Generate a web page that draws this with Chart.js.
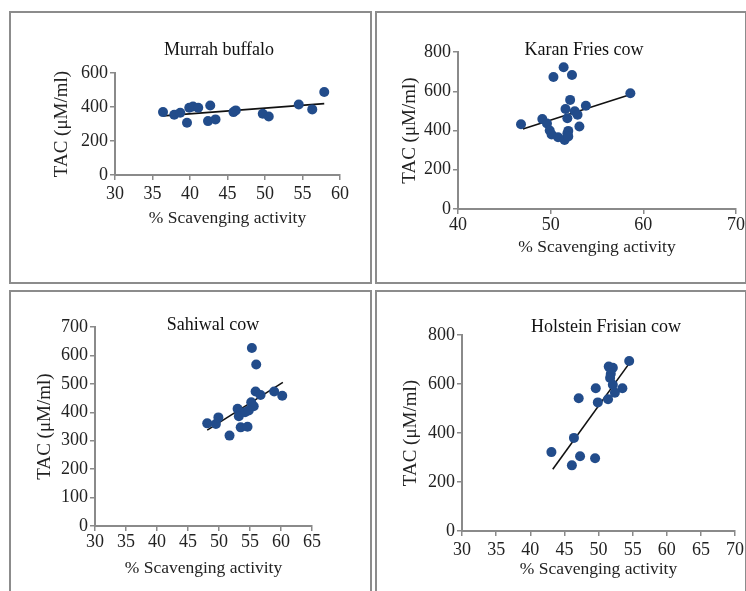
<!DOCTYPE html>
<html>
<head>
<meta charset="utf-8">
<script src="https://cdn.jsdelivr.net/npm/chart.js@4"></script>
<style>
  html, body { margin: 0; padding: 0; background: #fff; overflow: hidden; }
  body { width: 746px; height: 591px; position: relative; }
  .panel { position: absolute; box-sizing: border-box; border: 2px solid #8c8c8c; }
  canvas { position: absolute; }
</style>
</head>
<body>
<div class="panel" style="left:9px;top:11px;width:363px;height:273px"></div>
<div class="panel" style="left:375px;top:11px;width:372px;height:273px"></div>
<div class="panel" style="left:9px;top:290px;width:363px;height:310px"></div>
<div class="panel" style="left:375px;top:290px;width:372px;height:310px"></div>
<canvas id="c1" style="left:9px;top:11px"></canvas>
<canvas id="c2" style="left:375px;top:11px"></canvas>
<canvas id="c3" style="left:9px;top:290px"></canvas>
<canvas id="c4" style="left:375px;top:290px"></canvas>
<script>
// values
const murrahX = [36.4, 37.9, 38.7, 39.6, 39.9, 40.4, 41.1, 42.7, 42.4, 43.4, 45.8, 46.1, 49.7, 50.5, 54.5, 56.3, 57.9];
const murrahY = [370, 354, 366, 307, 396, 403, 396, 409, 317, 327, 370, 380, 360, 344, 415, 386, 488];
const murrahFitX = [36.4, 57.9];
const murrahFitY = [348, 420];

const karanX = [46.8, 49.1, 49.6, 49.9, 50.1, 50.8, 51.5, 51.8, 51.9, 50.3, 51.4, 52.3, 52.1, 51.6, 51.8, 52.6, 52.9, 53.1, 53.8, 58.6, 51.9];
const karanY = [432, 458, 436, 400, 380, 366, 352, 385, 398, 673, 722, 683, 556, 510, 462, 498, 480, 420, 526, 590, 370];
const karanFitX = [47.0, 58.7];
const karanFitY = [408, 585];

const sahiwalX = [48.1, 49.5, 49.9, 51.7, 53.0, 53.2, 53.5, 54.6, 54.2, 55.2, 55.6, 55.3, 56.0, 55.9, 56.7, 58.9, 60.2, 54.8];
const sahiwalY = [361, 359, 382, 318, 412, 386, 347, 349, 400, 435, 421, 626, 568, 473, 461, 473, 458, 406];
const sahiwalFitX = [48.1, 60.3];
const sahiwalFitY = [337, 505];

const holsteinX = [54.5, 51.5, 52.1, 51.8, 51.7, 52.1, 53.5, 52.4, 51.4, 49.6, 49.9, 47.1, 46.4, 43.1, 47.3, 49.5, 46.1];
const holsteinY = [694, 671, 666, 642, 625, 597, 583, 564, 538, 583, 525, 542, 380, 322, 305, 297, 268];
const holsteinFitX = [43.3, 54.4];
const holsteinFitY = [252, 680];

const titles = ["Murrah buffalo", "Karan Fries cow", "Sahiwal cow", "Holstein Frisian cow"];
const xTitle = "% Scavenging activity";
const yTitle = "TAC (\u03bcM/ml)";

const FONT = '"Liberation Serif", "Times New Roman", serif';
const AXIS = '#8a8a8a';
const TEXT = '#222';

function pts(xs, ys) { return xs.map((x, i) => ({ x: x, y: ys[i] })); }

const titlePlugin = {
  id: 'panelTitle',
  afterDraw(chart) {
    const o = chart.options.plugins.panelTitle;
    if (!o) return;
    const ctx = chart.ctx;
    ctx.save();
    ctx.font = '18px ' + FONT;
    ctx.fillStyle = '#111';
    ctx.textAlign = 'center';
    ctx.textBaseline = 'middle';
    ctx.fillText(o.text, o.x, o.y);
    ctx.restore();
  }
};

function makeChart(id, w, h, cfg) {
  const el = document.getElementById(id);
  el.width = w; el.height = h;
  el.style.width = w + 'px'; el.style.height = h + 'px';
  return new Chart(el, {
    type: 'scatter',
    data: {
      datasets: [
        {
          data: pts(cfg.xs, cfg.ys),
          backgroundColor: '#224c8b',
          borderColor: '#224c8b',
          pointRadius: 5,
          pointBorderWidth: 0
        },
        {
          data: pts(cfg.fitX, cfg.fitY),
          showLine: true,
          borderColor: '#111',
          borderWidth: 1.6,
          pointRadius: 0,
          fill: false
        }
      ]
    },
    options: {
      responsive: false,
      animation: false,
      events: [],
      layout: { padding: cfg.pad },
      plugins: {
        legend: { display: false },
        tooltip: { enabled: false },
        panelTitle: cfg.title
      },
      scales: {
        x: {
          type: 'linear',
          min: cfg.xMin, max: cfg.xMax,
          ticks: { stepSize: cfg.xStep, color: TEXT, padding: cfg.xPad, font: { family: FONT, size: 18 } },
          grid: { drawOnChartArea: false, drawTicks: true, tickLength: 5, color: AXIS, lineWidth: 1.5 },
          border: { color: AXIS, width: 2 },
          title: { display: true, text: xTitle, color: TEXT, font: { family: FONT, size: 17.5 } },
          afterFit(s) { s.height = cfg.xH; s.paddingLeft = 0; s.paddingRight = 0; }
        },
        y: {
          type: 'linear',
          min: 0, max: cfg.yMax,
          ticks: { stepSize: cfg.yStep, color: TEXT, padding: 2, font: { family: FONT, size: 18 } },
          grid: { drawOnChartArea: false, drawTicks: true, tickLength: 5, color: AXIS, lineWidth: 1.5 },
          border: { color: AXIS, width: 2 },
          title: { display: true, text: yTitle, color: TEXT, font: { family: FONT, size: 19 } },
          afterFit(s) { s.width = cfg.yW; s.paddingTop = 0; s.paddingBottom = 0; }
        }
      }
    },
    plugins: [titlePlugin]
  });
}

makeChart('c1', 363, 273, {
  xs: murrahX, ys: murrahY, fitX: murrahFitX, fitY: murrahFitY,
  xMin: 30, xMax: 60, xStep: 5, yMax: 600, yStep: 200,
  pad: { left: 38, top: 62, right: 32, bottom: 51 }, yW: 68, xH: 58, xPad: 3,
  title: { text: titles[0], x: 210, y: 39 }
});
makeChart('c2', 371, 273, {
  xs: karanX, ys: karanY, fitX: karanFitX, fitY: karanFitY,
  xMin: 40, xMax: 70, xStep: 10, yMax: 800, yStep: 200,
  pad: { left: 20, top: 41, right: 10, bottom: 22 }, yW: 63, xH: 53, xPad: 0,
  title: { text: titles[1], x: 209, y: 39 }
});
makeChart('c3', 363, 310, {
  xs: sahiwalX, ys: sahiwalY, fitX: sahiwalFitX, fitY: sahiwalFitY,
  xMin: 30, xMax: 65, xStep: 5, yMax: 700, yStep: 100,
  pad: { left: 21, top: 37, right: 60, bottom: 17 }, yW: 65, xH: 57, xPad: 0,
  title: { text: titles[2], x: 204, y: 35 }
});
makeChart('c4', 371, 310, {
  xs: holsteinX, ys: holsteinY, fitX: holsteinFitX, fitY: holsteinFitY,
  xMin: 30, xMax: 70, xStep: 5, yMax: 800, yStep: 200,
  pad: { left: 21, top: 45, right: 11, bottom: 16 }, yW: 66, xH: 53, xPad: 3,
  title: { text: titles[3], x: 231, y: 37 }
});
</script>
</body>
</html>
